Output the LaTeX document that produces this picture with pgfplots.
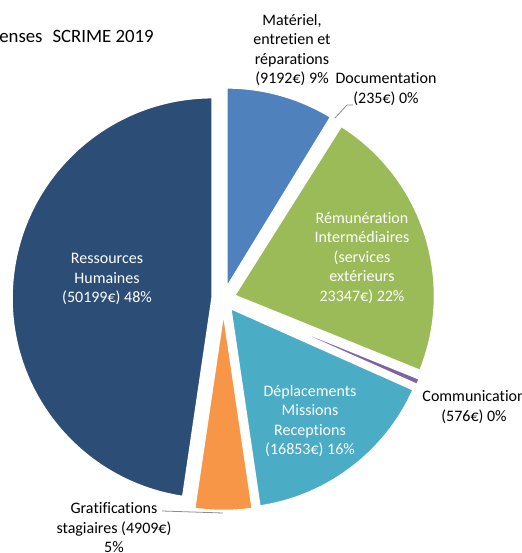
\documentclass[border=0pt]{standalone}
\usepackage{pgfplots}
\pgfplotsset{compat=1.18}
\usepackage{pgfplotstable}
\usepackage{fontspec}
\setmainfont{Carlito}[Ligatures=NoCommon]
\definecolor{cMat}{HTML}{4F81BD}
\definecolor{cDoc}{HTML}{C0504D}
\definecolor{cRem}{HTML}{9BBB59}
\definecolor{cCom}{HTML}{8064A2}
\definecolor{cDep}{HTML}{4BACC6}
\definecolor{cGra}{HTML}{F79646}
\definecolor{cRH}{HTML}{2C4D75}
\definecolor{leader}{HTML}{8C8C8C}
\pgfplotstableread{
label value col
Mat 9192 cMat
Doc 235 cDoc
Rem 23347 cRem
Com 576 cCom
Dep 16853 cDep
Gra 4909 cGra
RH 50199 cRH
}\depenses
\newcommand\cx{223.5}
\newcommand\cy{254}
\newcommand\rad{201}
\newcommand\expl{11}
\newcommand\fpuset[2]{\begingroup\pgfkeys{/pgf/fpu=true,/pgf/fpu/output format=fixed}\pgfmathparse{#2}\xdef#1{\pgfmathresult}\endgroup}
\begin{document}
\begin{tikzpicture}
\useasboundingbox (0,0) rectangle (521pt,553pt);
\clip (0,0) rectangle (521pt,553pt);
\gdef\total{0}
\foreach \i in {0,...,6}{\pgfplotstablegetelem{\i}{value}\of\depenses \fpuset\total{\total+\pgfplotsretval}}
\begin{axis}[x=1pt, y=1pt, xmin=0, xmax=521, ymin=0, ymax=553, hide axis,
  at={(0,0)}, anchor=south west, clip=false]
\gdef\cum{0}
\pgfplotsinvokeforeach{0,...,6}{
  \pgfplotstablegetelem{#1}{value}\of\depenses \let\slval\pgfplotsretval
  \pgfplotstablegetelem{#1}{col}\of\depenses \let\slcol\pgfplotsretval
  \fpuset\angA{90-360*\cum/\total}
  \fpuset\angB{90-360*(\cum+\slval)/\total}
  \fpuset\angM{(\angA+\angB)/2}
  \fpuset\px{\cx+\expl*cos(\angM)}
  \fpuset\py{\cy+\expl*sin(\angM)}
  \edef\temp{\noexpand\fill[fill=\slcol, draw=white, line width=2.5pt, line join=round] (axis cs:\px,\py) -- ++(\angA:\rad pt) arc[start angle=\angA, end angle=\angB, radius=\rad pt] -- cycle;}
  \temp
  \fpuset\cum{\cum+\slval}
}
\draw[leader, line width=0.8pt] (axis cs:335,435) -- (axis cs:347,448) -- (axis cs:353,448);
\draw[leader, line width=0.8pt] (axis cs:162,42) -- (axis cs:223,40);
\tikzset{lab/.style={inner sep=0pt, align=center, font=\fontsize{16}{19.5}\selectfont}}
\node[anchor=base east, inner sep=0pt, font=\fontsize{18.8}{23}\selectfont] at (axis cs:154,510.5) {Dépenses\hspace{10pt}SCRIME 2019};
\node[lab] at (axis cs:292,503) {Matériel,\\entretien et\\réparations\\(9192€) 9\%};
\node[lab] at (axis cs:386,464) {Documentation\\(235€) 0\%};
\node[lab, text=white] at (axis cs:362,295) {Rémunération\\Intermédiaires\\(services\\extérieurs\\23347€) 22\%};
\node[lab] at (axis cs:474,146) {Communication\\(576€) 0\%};
\node[lab, text=white] at (axis cs:310,132) {Déplacements\\Missions\\Receptions\\(16853€) 16\%};
\node[lab] at (axis cs:114,25) {Gratifications\\stagiaires (4909€)\\5\%};
\node[lab, text=white] at (axis cs:107,274) {Ressources\\Humaines\\(50199€) 48\%};
\end{axis}
\end{tikzpicture}
\end{document}
